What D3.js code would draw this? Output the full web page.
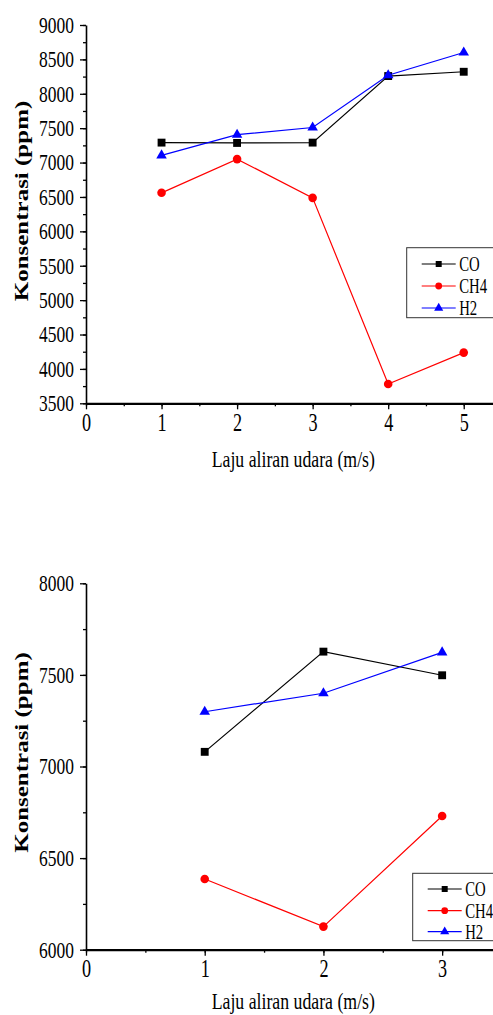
<!DOCTYPE html>
<html>
<head>
<meta charset="utf-8">
<script src="https://cdn.jsdelivr.net/npm/d3@7"></script>
<style>
  body { margin: 0; background: #fff; }
  svg { display: block; }
  text { font-family: "Liberation Serif", "Times New Roman", serif; fill: #000; }
</style>
</head>
<body>
<script>
// Data.

var seriesNames = ['CO', 'CH4', 'H2'];

var xTop = [1, 2, 3, 4, 5];
var coTop = [7290, 7285, 7290, 8258, 8320];
var ch4Top = [6560, 7050, 6487, 3780, 4237];
var h2Top = [7105, 7405, 7510, 8270, 8600];
var yTicksTop = [3500, 4000, 4500, 5000, 5500, 6000, 6500, 7000, 7500, 8000, 8500, 9000];
var xTicksTop = [0, 1, 2, 3, 4, 5];

var xBot = [1, 2, 3];
var coBot = [7080, 7627, 7498];
var ch4Bot = [6386, 6126, 6730];
var h2Bot = [7299, 7400, 7623];
var yTicksBot = [6000, 6500, 7000, 7500, 8000];
var xTicksBot = [0, 1, 2, 3];

var xTitle = 'Laju aliran udara (m/s)',
    yTitle = 'Konsentrasi (ppm)';

var colors = ['#000000', '#ff0000', '#0000ff'];
var symbols = [d3.symbolSquare, d3.symbolCircle, d3.symbolTriangle];

var width = 493,
    height = 1015;

var svg = d3.select('body')
  .append('svg')
  .attr('width', width)
  .attr('height', height);

// one panel per call; the text in the original is squeezed sideways,
// so labels get a horizontal scale

function drawPanel(opt) {
  var g = svg.append('g');

  var x = d3.scaleLinear().domain(opt.xDomain).range([86, 501.5]);
  var y = d3.scaleLinear().domain(opt.yDomain).range([opt.bottom, opt.top]);

  // minor ticks first, under the major ones
  var yMinor = d3.range(opt.yDomain[0], opt.yDomain[1] + 1, 250);
  g.append('g')
    .attr('transform', 'translate(86,0)')
    .call(d3.axisLeft(y).tickValues(yMinor).tickSize(3).tickFormat(''))
    .call(function(a) { a.select('.domain').remove(); })
    .selectAll('line').attr('stroke-width', 1.3);

  var xMinor = d3.range(0, opt.xDomain[1] + 0.01, 0.5);
  g.append('g')
    .attr('transform', 'translate(0,' + opt.bottom + ')')
    .call(d3.axisBottom(x).tickValues(xMinor).tickSize(3).tickFormat(''))
    .call(function(a) { a.select('.domain').remove(); })
    .selectAll('line').attr('stroke-width', 1.3);

  var yAxis = g.append('g')
    .attr('transform', 'translate(86,0)')
    .call(d3.axisLeft(y).tickValues(opt.yTicks).tickSize(6).tickSizeOuter(0).tickFormat(d3.format('d')));
  yAxis.select('.domain').attr('stroke-width', 1.6);
  yAxis.selectAll('line').attr('stroke-width', 1.3);
  yAxis.selectAll('text')
    .attr('font-size', 23)
    .attr('font-family', '"Liberation Serif", serif')
    .attr('x', -12 / 0.76)
    .attr('transform', 'scale(0.76,1)');

  var xAxis = g.append('g')
    .attr('transform', 'translate(0,' + opt.bottom + ')')
    .call(d3.axisBottom(x).tickValues(opt.xTicks).tickSize(6).tickPadding(3)
      .tickSizeOuter(0).tickFormat(d3.format('d')));
  xAxis.select('.domain').attr('stroke-width', 2.2);
  xAxis.selectAll('line').attr('stroke-width', 1.3);
  xAxis.selectAll('text')
    .attr('font-size', 26)
    .attr('font-family', '"Liberation Serif", serif')
    .attr('transform', 'scale(0.7,1)');

  // axis titles
  g.append('text')
    .attr('transform', 'translate(293.3,' + opt.xTitleY + ') scale(0.74,1)')
    .attr('text-anchor', 'middle')
    .attr('font-size', 24)
    .text(xTitle);

  g.append('text')
    .attr('transform', 'translate(28,' + opt.yTitleY + ') rotate(-90) scale(1,0.77)')
    .attr('text-anchor', 'middle')
    .attr('font-size', 25)
    .attr('font-weight', 'bold')
    .text(yTitle);

  // lines and markers
  var line = d3.line()
    .x(function(d) { return x(d[0]); })
    .y(function(d) { return y(d[1]); });

  opt.series.forEach(function(vals, i) {
    var pts = opt.xs.map(function(v, j) { return [v, vals[j]]; });
    g.append('path')
      .datum(pts)
      .attr('d', line)
      .attr('fill', 'none')
      .attr('stroke', colors[i])
      .attr('stroke-width', 1.2);
    g.selectAll('.m' + i)
      .data(pts)
      .enter().append('path')
      .attr('class', 'm' + i)
      .attr('transform', function(d) { return 'translate(' + x(d[0]) + ',' + y(d[1]) + ')'; })
      .attr('d', d3.symbol().type(symbols[i]).size(i === 2 ? 48 : (i === 1 ? 58 : 62)))
      .attr('fill', colors[i]);
  });

  // legend box
  var lg = g.append('g').attr('transform', 'translate(' + opt.legend[0] + ',' + opt.legend[1] + ')');
  lg.append('rect')
    .attr('x', 0).attr('y', 0)
    .attr('width', 100).attr('height', opt.legend[2])
    .attr('fill', '#fff')
    .attr('stroke', '#333')
    .attr('stroke-width', 1);

  seriesNames.forEach(function(name, i) {
    var ry = opt.legendRows[i];
    lg.append('line')
      .attr('x1', 15).attr('x2', 49)
      .attr('y1', ry).attr('y2', ry)
      .attr('stroke', colors[i])
      .attr('stroke-width', 1.2);
    lg.append('path')
      .attr('transform', 'translate(32,' + ry + ')')
      .attr('d', d3.symbol().type(symbols[i]).size(36))
      .attr('fill', colors[i]);
    lg.append('text')
      .attr('transform', 'translate(52.5,' + ry + ') scale(0.72,1)')
      .attr('dy', '0.35em')
      .attr('font-size', 20.5)
      .text(name);
  });
}

drawPanel({
  xDomain: [0, 5.5],
  yDomain: [3500, 9000],
  top: 25,
  bottom: 403.3,
  yTicks: yTicksTop,
  xTicks: xTicksTop,
  xs: xTop,
  series: [coTop, ch4Top, h2Top],
  xTitleY: 466.7,
  yTitleY: 201,
  legend: [406.7, 247.7, 70],
  legendRows: [16.3, 38.3, 60.3]
});

drawPanel({
  xDomain: [0, 3.5],
  yDomain: [6000, 8000],
  top: 583.3,
  bottom: 949.7,
  yTicks: yTicksBot,
  xTicks: xTicksBot,
  xs: xBot,
  series: [coBot, ch4Bot, h2Bot],
  xTitleY: 1009.3,
  yTitleY: 752.5,
  legend: [412.7, 873.3, 67.4],
  legendRows: [15.7, 37.4, 58.4]
});
</script>
</body>
</html>
